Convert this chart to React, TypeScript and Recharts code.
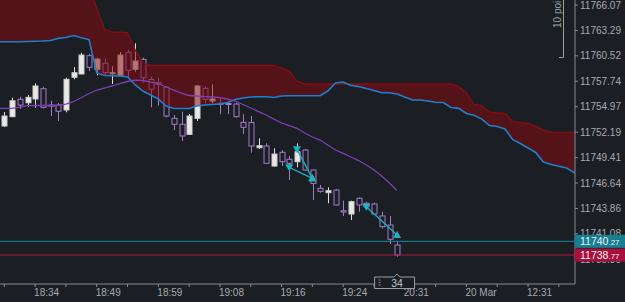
import React from 'react';
import { ComposedChart, Bar, Area, Line, XAxis, YAxis, ReferenceLine } from 'recharts';

// ---------- data ----------
// candles (bar index 0..51)
const candleOpen = [11752.86, 11753.88, 11755.78, 11755.40, 11755.81, 11756.93, 11755.15, 11755.15, 11754.61, 11758.18, 11758.54, 11760.54, 11759.05, 11759.71, 11758.61, 11758.40, 11760.91, 11759.05, 11760.14, 11757.94, 11757.59, 11757.09, 11753.70, 11753.05, 11751.95, 11753.70, 11756.98, 11755.59, 11755.34, 11755.32, 11755.26, 11753.26, 11753.24, 11750.49, 11750.68, 11748.49, 11749.99, 11749.23, 11748.96, 11750.24, 11748.06, 11746.06, 11745.58, 11745.87, 11743.61, 11743.25, 11744.97, 11744.42, 11744.35, 11743.04, 11742.05, 11739.87];
const candleHigh = [11754.39, 11755.95, 11756.06, 11756.24, 11757.52, 11757.15, 11755.62, 11755.37, 11758.13, 11759.30, 11760.86, 11760.75, 11760.32, 11760.25, 11759.38, 11760.94, 11761.16, 11761.89, 11760.32, 11758.24, 11758.13, 11757.23, 11754.06, 11754.42, 11754.17, 11757.34, 11757.23, 11757.41, 11755.95, 11755.62, 11755.40, 11754.14, 11753.95, 11751.52, 11750.97, 11750.43, 11750.24, 11749.59, 11750.97, 11750.35, 11748.13, 11746.42, 11746.17, 11745.98, 11744.71, 11744.71, 11745.08, 11744.60, 11744.49, 11743.50, 11743.04, 11740.23];
const candleLow = [11752.75, 11753.84, 11754.72, 11754.97, 11754.86, 11754.79, 11753.95, 11753.41, 11754.36, 11757.96, 11758.50, 11758.86, 11758.40, 11758.43, 11757.45, 11758.35, 11758.10, 11758.79, 11757.61, 11754.90, 11755.08, 11753.81, 11752.42, 11751.22, 11751.88, 11753.41, 11755.34, 11755.34, 11754.14, 11754.17, 11753.77, 11751.99, 11749.95, 11750.35, 11748.71, 11748.42, 11748.49, 11746.97, 11748.35, 11747.98, 11744.78, 11745.58, 11744.42, 11744.18, 11743.04, 11742.60, 11743.50, 11743.69, 11743.14, 11741.69, 11739.98, 11738.59];
const candleClose = [11753.95, 11755.62, 11755.15, 11755.99, 11757.23, 11754.90, 11755.04, 11754.47, 11757.96, 11758.68, 11760.61, 11759.27, 11760.17, 11758.68, 11758.68, 11760.61, 11758.94, 11759.96, 11758.13, 11756.88, 11757.41, 11753.95, 11753.05, 11751.77, 11753.95, 11757.23, 11755.78, 11755.81, 11755.23, 11755.22, 11753.88, 11752.72, 11750.68, 11750.71, 11748.79, 11749.80, 11748.96, 11748.79, 11750.05, 11748.06, 11746.60, 11745.73, 11745.80, 11744.24, 11743.47, 11744.60, 11744.24, 11744.05, 11743.25, 11741.87, 11740.49, 11738.77];

// first slot of the slot-based series below
const firstSlot = -1;
// moving average (slots -1..51)
const maLine = [11754.79, 11754.79, 11754.79, 11754.93, 11755.08, 11755.12, 11755.10, 11755.10, 11755.15, 11755.26, 11755.54, 11755.95, 11756.41, 11756.79, 11757.01, 11757.23, 11757.50, 11757.72, 11757.88, 11757.83, 11757.66, 11757.48, 11757.12, 11756.79, 11756.46, 11756.19, 11756.14, 11756.08, 11756.03, 11755.97, 11755.81, 11755.59, 11755.21, 11754.83, 11754.44, 11754.06, 11753.62, 11753.19, 11752.91, 11752.61, 11752.10, 11751.66, 11751.33, 11750.79, 11750.24, 11749.88, 11749.48, 11749.09, 11748.60, 11748.06, 11747.40, 11746.64, 11745.82];
// cloud upper edge (slots -1..75)
const cloudUpper = [11769.50, 11769.50, 11769.50, 11769.50, 11769.50, 11769.50, 11769.50, 11769.50, 11769.50, 11769.50, 11769.50, 11769.50, 11768.36, 11765.63, 11763.45, 11763.12, 11763.12, 11763.07, 11761.16, 11759.74, 11759.47, 11759.47, 11759.47, 11759.47, 11759.47, 11759.47, 11759.47, 11759.47, 11759.47, 11759.47, 11759.47, 11759.47, 11759.47, 11759.47, 11759.47, 11759.47, 11759.47, 11759.19, 11758.86, 11757.77, 11757.45, 11757.45, 11757.45, 11757.45, 11757.45, 11757.45, 11757.45, 11757.45, 11757.45, 11757.45, 11757.45, 11757.45, 11757.45, 11757.45, 11757.45, 11757.45, 11757.45, 11757.45, 11757.45, 11757.45, 11757.17, 11756.46, 11755.21, 11755.10, 11754.39, 11754.28, 11754.23, 11753.35, 11753.24, 11753.16, 11752.86, 11752.42, 11752.17, 11752.17, 11752.17, 11752.17, 11752.17];
// cloud lower edge / blue line (slots -1..75)
const cloudLower = [11762.06, 11762.06, 11762.06, 11762.06, 11762.09, 11762.12, 11762.14, 11762.19, 11762.43, 11762.52, 11762.74, 11762.49, 11762.30, 11758.65, 11758.37, 11758.35, 11758.32, 11758.21, 11757.34, 11756.68, 11756.24, 11755.81, 11755.04, 11754.77, 11754.77, 11754.77, 11755.04, 11755.15, 11755.21, 11755.26, 11755.43, 11755.75, 11755.92, 11756.03, 11756.06, 11756.06, 11755.97, 11756.14, 11756.17, 11756.17, 11756.17, 11756.17, 11756.17, 11756.68, 11757.55, 11757.66, 11757.28, 11757.17, 11756.95, 11756.74, 11756.50, 11756.50, 11756.35, 11756.03, 11755.70, 11755.70, 11755.59, 11755.45, 11755.43, 11754.88, 11754.79, 11754.23, 11754.03, 11753.62, 11752.91, 11752.81, 11752.53, 11751.39, 11750.95, 11750.46, 11749.97, 11748.93, 11748.66, 11748.46, 11748.28, 11747.78, 11747.40];

// trades (entry -> exit)
const tradeFromSlot = [37, 38, 47];
const tradeFromPrice = [11748.35, 11750.32, 11744.05];
const tradeToSlot = [40, 40, 51];
const tradeToPrice = [11747.15, 11747.15, 11740.96];

// axes
const xTickSlots = [0, 4, 8, 12, 16, 20, 24, 28, 32, 36, 40, 44, 48, 52, 56, 60, 64, 68, 72];
const xLabelSlots = [4, 12, 20, 28, 36, 44, 52, 60, 68];
const xLabels = ['18:34', '18:49', '18:59', '19:08', '19:16', '19:24', '20:31', '20 Mar', '12:31'];
const yTicks = [11766.07, 11763.29, 11760.52, 11757.74, 11754.97, 11752.19, 11749.41, 11746.64, 11743.86, 11741.08, 11738.30];

const askPrice = 11740.27;
const lastPrice = 11738.77;
const barCountdown = '34';
const scaleLabel = '10 points';

// ---------- build rows ----------
const rows = cloudUpper.map((u, k) => {
  const slot = firstSlot + k;
  const c = slot >= 0 && slot < candleOpen.length ? slot : -1;
  return {
    slot,
    upper: u,
    lower: cloudLower[k],
    ma: k < maLine.length ? maLine[k] : null,
    open: c >= 0 ? candleOpen[c] : null,
    high: c >= 0 ? candleHigh[c] : null,
    low: c >= 0 ? candleLow[c] : null,
    close: c >= 0 ? candleClose[c] : null,
  };
});

const tradeData = tradeFromSlot.map((s, i) => [
  { slot: s, p: tradeFromPrice[i], dir: 'down' },
  { slot: tradeToSlot[i], p: tradeToPrice[i], dir: 'up' },
]);

const BG = '#1b1f23';
const AXIS = '#868b91';
const TXT = '#a5aaaf';
const FONT = 'Liberation Sans, Arial, sans-serif';

const Candle = (props: any) => {
  const { x, y, width, height, payload } = props;
  if (!payload || payload.open == null || x == null) return <g />;
  const { open, close, high, low } = payload;
  const span = high - low || 1;
  const pix = (v: number) => y + ((high - v) / span) * height;
  const cx = Math.round(x + width / 2) + 0.5;
  const bull = close >= open;
  const top = pix(Math.max(open, close));
  const bot = pix(Math.min(open, close));
  const bodyH = Math.max(bot - top, 1);
  const col = bull ? '#dcdcdc' : '#a17ccd';
  const left = cx - width / 2 + 0.5;
  return (
    <g>
      <line x1={cx} x2={cx} y1={y} y2={y + height} stroke={col} strokeWidth={1} />
      <rect x={left} y={top} width={width - 1} height={bodyH} fill={bull ? '#e8e8e8' : BG} stroke={bull ? '#cfcfcf' : '#a17ccd'} strokeWidth={1} />
    </g>
  );
};

const TradeMark = (props: any) => {
  const { cx, cy, payload, index } = props;
  if (cx == null || cy == null) return <g key={index} />;
  const s = 4;
  const d = payload.dir === 'down'
    ? `M${cx - s},${cy - s + 1} L${cx + s},${cy - s + 1} L${cx},${cy + s} Z`
    : `M${cx - s},${cy + s - 1} L${cx + s},${cy + s - 1} L${cx},${cy - s} Z`;
  return <path key={index} d={d} fill="#1fb2bf" />;
};

const XTick = (props: any) => {
  const { x, y, payload } = props;
  const idx = xLabelSlots.indexOf(payload.value);
  if (idx < 0) return <g />;
  return (
    <text x={x - 1} y={y} dy="0.71em" textAnchor="start" fill={TXT} fontSize={10} fontFamily={FONT}>
      {xLabels[idx]}
    </text>
  );
};

const PriceTag = (props: any) => {
  const { viewBox, price, bg } = props;
  if (!viewBox) return <g />;
  const { x, y, width } = viewBox;
  const [ip, dp] = price.toFixed(2).split('.');
  return (
    <g>
      <rect x={x + width} y={y - 6.5} width={50} height={13} fill={bg} />
      <text x={x + width + 5} y={y} dy="0.36em" fill="#eef2f4" fontSize={10.5} fontFamily={FONT}>
        {ip}
        <tspan fontSize={8}>.{dp}</tspan>
      </text>
    </g>
  );
};

const CountBox = (props: any) => {
  const { viewBox, text } = props;
  if (!viewBox) return <g />;
  const cx = viewBox.x;
  const top = viewBox.y + viewBox.height - 7;
  const bot = top + 11.5;
  const l = cx - 22.5;
  const r = cx + 17.5;
  const d = `M${l},${top} L${cx - 3},${top} L${cx},${top - 3} L${cx + 3},${top} L${r},${top} L${r},${bot} L${l},${bot} Z`;
  return (
    <g>
      <path d={d} fill={BG} stroke="#9a9fa4" strokeWidth={1} />
      <line x1={l + 4} x2={l + 6} y1={top + 3} y2={top + 3} stroke="#7d8287" />
      <line x1={l + 4} x2={l + 6} y1={top + 5.5} y2={top + 5.5} stroke="#7d8287" />
      <line x1={l + 4} x2={l + 6} y1={top + 8} y2={top + 8} stroke="#7d8287" />
      <text x={cx} y={(top + bot) / 2} dy="0.36em" textAnchor="middle" fill="#c4c8cc" fontSize={10.5} fontFamily={FONT}>
        {text}
      </text>
    </g>
  );
};

export default function App() {
  const zProps: any = {};
  return (
    <div style={{ position: 'absolute', left: 0, top: 0, width: 625, height: 302, background: BG, overflow: 'hidden' }}>
      <ComposedChart width={625} height={302} data={rows} margin={{ top: 0, right: 0, bottom: 0, left: 0 }}>
        <XAxis
          dataKey="slot"
          type="number"
          domain={[-0.56, 74.1]}
          allowDataOverflow
          ticks={xTickSlots}
          interval={0}
          tick={<XTick />}
          tickSize={3}
          tickMargin={2}
          height={18}
          stroke={AXIS}
          axisLine={{ stroke: AXIS }}
          tickLine={{ stroke: AXIS }}
        />
        <YAxis
          orientation="right"
          type="number"
          domain={[11735.61, 11766.62]}
          allowDataOverflow
          ticks={yTicks}
          interval={0}
          width={50}
          tickSize={3}
          tickMargin={2}
          tickFormatter={(v: number) => v.toFixed(2)}
          tick={{ fill: TXT, fontSize: 10, fontFamily: FONT }}
          axisLine={{ stroke: AXIS }}
          tickLine={{ stroke: AXIS }}
        />
        <Bar
          dataKey={(d: any) => (d.open == null ? null : [d.low, d.high])}
          barSize={6}
          shape={<Candle />}
          isAnimationActive={false}
          {...zProps}
          zIndex={300}
        />
        <Area
          type="linear"
          dataKey={(d: any) => [d.lower, d.upper]}
          fill="#8a0a10"
          fillOpacity={0.52}
          stroke="none"
          isAnimationActive={false}
          activeDot={false}
          zIndex={350}
        />
        <Line type="linear" dataKey="upper" stroke="#8c0b10" strokeWidth={1.3} dot={false} activeDot={false} isAnimationActive={false} zIndex={400} />
        <Line type="linear" dataKey="lower" stroke="#1d7fd0" strokeWidth={1.6} dot={false} activeDot={false} isAnimationActive={false} zIndex={400} />
        <Line type="linear" dataKey="ma" stroke="#7d3fb4" strokeWidth={1.3} dot={false} activeDot={false} isAnimationActive={false} zIndex={400} />
        <ReferenceLine y={askPrice} stroke="#178b9d" strokeWidth={1} zIndex={2500} label={<PriceTag price={askPrice} bg="#167f90" />} />
        <ReferenceLine y={lastPrice} stroke="#b3123f" strokeWidth={1} zIndex={2500} label={<PriceTag price={lastPrice} bg="#a8103b" />} />
        {tradeData.map((td, i) => (
          <Line
            key={'t' + i}
            data={td}
            dataKey="p"
            type="linear"
            stroke="#1fa9b7"
            strokeWidth={1.5}
            dot={<TradeMark />}
            activeDot={false}
            isAnimationActive={false}
            zIndex={450}
          />
        ))}
        <ReferenceLine x={candleOpen.length - 1} stroke="none" zIndex={2500} label={<CountBox text={barCountdown} />} />
      </ComposedChart>
      <svg width={625} height={302} style={{ position: 'absolute', left: 0, top: 0, pointerEvents: 'none' }}>
        <path d="M563.5,0 L563.5,57.5 L559,57.5" fill="none" stroke="#9a9fa4" strokeWidth={1} />
        <text x={560.5} y={28} transform="rotate(-90 560.5 28)" fill="#9a9fa4" fontSize={10} fontFamily={FONT}>
          {scaleLabel}
        </text>
      </svg>
    </div>
  );
}
